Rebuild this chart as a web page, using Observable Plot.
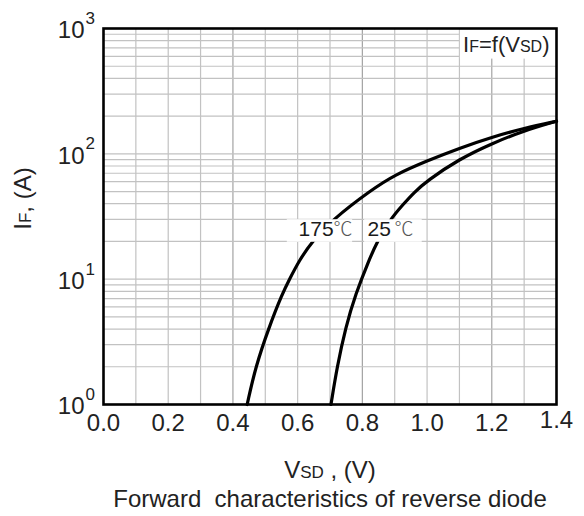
<!DOCTYPE html>
<html><head><meta charset="utf-8">
<script src="https://cdn.jsdelivr.net/npm/d3@7"></script>
<script src="https://cdn.jsdelivr.net/npm/@observablehq/plot@0.6"></script>
<style>body{margin:0;background:#fff} svg{white-space:pre}</style>
</head><body><div id="chart"></div>
<script>
// Series: forward voltage V_SD (V) vs forward current I_F (A)
const v175 = [0.444, 0.470, 0.511, 0.552, 0.575, 0.605, 0.643, 0.707, 0.825, 0.900, 1.000, 1.100, 1.200, 1.300, 1.400];
const i175 = [1, 2, 4.1, 7.6, 10, 14.1, 19.7, 29.8, 51, 68, 88, 111, 136, 160, 182];
const v25  = [0.703, 0.722, 0.748, 0.779, 0.820, 0.845, 0.885, 0.928, 0.959, 1.000, 1.100, 1.200, 1.300, 1.400];
const i25  = [1, 2, 4.1, 7.6, 14.1, 19.7, 29.8, 40, 49, 61, 91, 121, 153, 182];

const xTicks = [0.0, 0.2, 0.4, 0.6, 0.8, 1.0, 1.2, 1.4];
const yTicks = [1, 10, 100, 1000];
const yExps = ["0", "1", "2", "3"];
const xGridMinor = [0.1, 0.2, 0.3, 0.5, 0.6, 0.7, 0.9, 1.0, 1.1, 1.3];
const xGridMajor = [0.4, 0.8, 1.2];
const yGrid = [2,3,4,5,6,7,8,9,10,20,30,40,50,60,70,80,90,100,200,300,400,500,600,700,800,900];

const seriesLabels = ["175", "25"];
const labelUnit = "℃";
const labelV = [0.603, 0.816];      // where each curve label starts
const unitV = [0.711, 0.899];
const labelI = [24.9, 24.9];
const boxV1 = [0.568, 0.807], boxV2 = [0.770, 0.985], boxI1 = [19.7, 19.7], boxI2 = [29.8, 29.8];
const annotBox = {x1: 1.103, x2: 1.4, y1: 570, y2: 1000};

const xTitle = "VSD , (V)";
const yTitle = "IF, (A)";
const annotation = "IF=f(VSD)";
const caption = "Forward  characteristics of reverse diode";

const d175 = v175.map((v, i) => ({v, i: i175[i]}));
const d25 = v25.map((v, i) => ({v, i: i25[i]}));
const labels = seriesLabels.map((s, k) => ({s, v: labelV[k], u: unitV[k], i: labelI[k]}));
const boxes = seriesLabels.map((s, k) => ({x1: boxV1[k], x2: boxV2[k], y1: boxI1[k], y2: boxI2[k]}));

const font = "Liberation Sans, Arial, sans-serif";
const fs = 24;

const svg = Plot.plot({
  width: 584, height: 516,
  marginLeft: 103, marginRight: 28, marginTop: 28, marginBottom: 112,
  style: {fontFamily: font, background: "white", color: "#222"},
  x: {type: "linear", domain: [0, 1.4], axis: null},
  y: {type: "log", domain: [1, 1000], axis: null},
  marks: [
    Plot.ruleX(xGridMinor, {x: d => d, stroke: "#c2c2c2", strokeWidth: 1.2}),
    Plot.ruleX(xGridMajor, {x: d => d, stroke: "#a3a3a3", strokeWidth: 1.2}),
    Plot.ruleY(yGrid, {y: d => d, stroke: "#c2c2c2", strokeWidth: 1.2}),
    Plot.line(d175, {x: "v", y: "i", curve: "basis", stroke: "black", strokeWidth: 3.2}),
    Plot.line(d25, {x: "v", y: "i", curve: "basis", stroke: "black", strokeWidth: 3.2}),
    Plot.rect(boxes, {x1: "x1", x2: "x2", y1: "y1", y2: "y2", fill: "white"}),
    Plot.rect([annotBox], {x1: "x1", x2: "x2", y1: "y1", y2: "y2", fill: "white"}),
    Plot.text(labels, {x: "v", y: "i", text: "s", textAnchor: "start", fontSize: 21, fill: "#1a1a1a"}),
    Plot.text(labels, {x: "u", y: "i", text: () => labelUnit, textAnchor: "start", fontSize: 19, fill: "#555", fontFamily: "Noto Sans CJK SC", fontWeight: 300}),
    Plot.frame({stroke: "black", strokeWidth: 2.6}),
    Plot.text(xTicks.slice(0, -1), {x: d => d, frameAnchor: "bottom", lineAnchor: "middle", text: d => d3.format(".1f")(d), dy: 19, fontSize: fs}),
    Plot.text(xTicks.slice(-1), {x: d => d, frameAnchor: "bottom", lineAnchor: "middle", text: d => d3.format(".1f")(d), dy: 15.5, fontSize: fs}),
    Plot.text(yTicks, {y: d => d, frameAnchor: "left", lineAnchor: "middle", text: () => "10", textAnchor: "end", dx: -19, dy: 2, fontSize: fs}),
    Plot.text(yTicks, {y: d => d, frameAnchor: "left", lineAnchor: "middle", text: (d, k) => yExps[k], textAnchor: "start", dx: -18, dy: -10, fontSize: 17}),
    Plot.text([annotation], {frameAnchor: "top-right", textAnchor: "end", lineAnchor: "middle", dx: -7, dy: 16, fontSize: 22, ariaDescription: "annot"}),
    Plot.text([xTitle], {frameAnchor: "bottom", textAnchor: "middle", lineAnchor: "middle", dy: 66, fontSize: fs, ariaDescription: "xtitle"}),
    Plot.text([yTitle], {frameAnchor: "left", textAnchor: "middle", lineAnchor: "middle", dx: -80, dy: -18, rotate: -90, fontSize: fs, ariaDescription: "ytitle"}),
    Plot.text([caption], {frameAnchor: "bottom", textAnchor: "middle", lineAnchor: "middle", dy: 95, fontSize: fs})
  ]
});

function rich(label, parts) {
  const t = svg.querySelector(`g[aria-description="${label}"] text`);
  if (!t) return;
  t.textContent = "";
  for (const [s, size] of parts) {
    const ts = document.createElementNS("http://www.w3.org/2000/svg", "tspan");
    ts.textContent = s;
    if (size) ts.style.fontSize = size + "px";
    t.appendChild(ts);
  }
}
rich("annot", [["I"], ["F", 16], ["=f(V"], ["SD", 16], [")"]]);
rich("xtitle", [["V"], ["SD", 17], [" , (V)"]]);
rich("ytitle", [["I"], ["F", 17], [", (A)"]]);

document.getElementById("chart").appendChild(svg);
</script>
</body></html>
